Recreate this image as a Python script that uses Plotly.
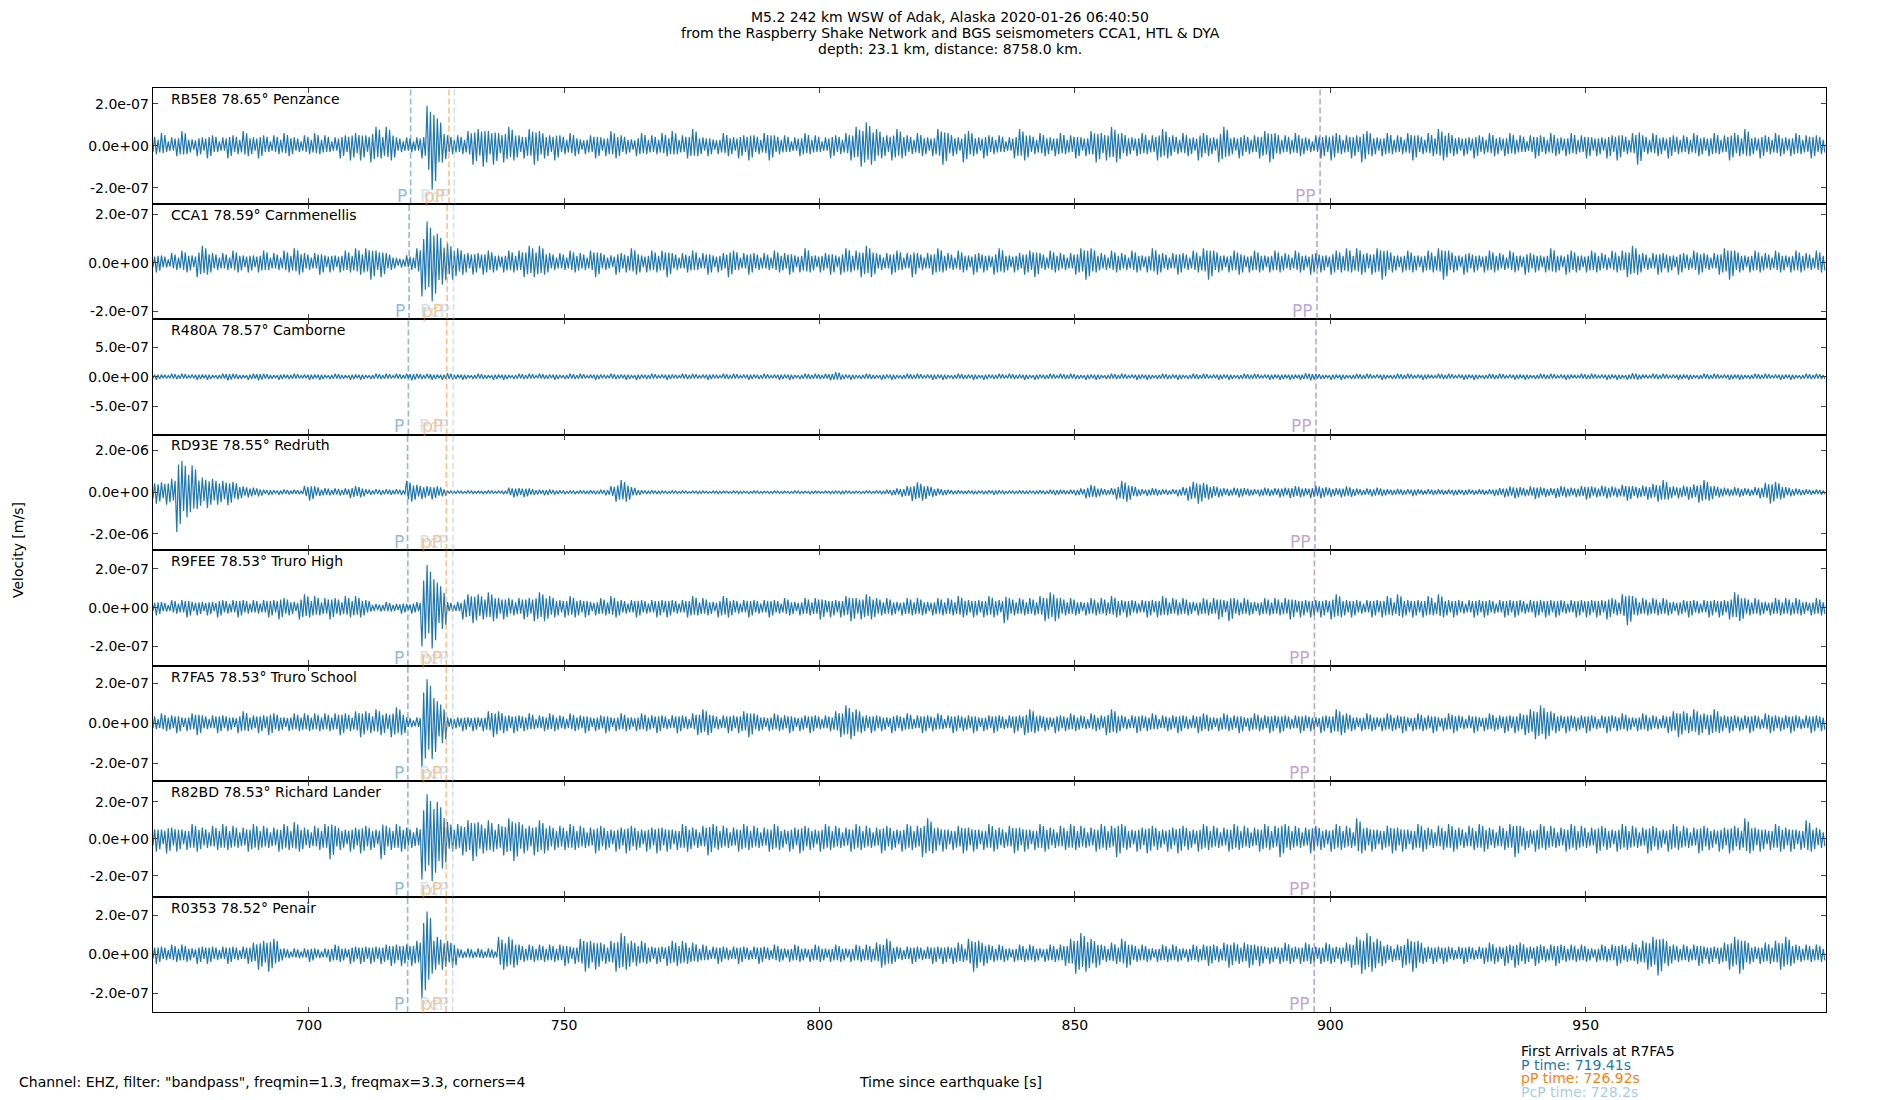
import plotly.graph_objects as go
from plotly.subplots import make_subplots

# stations, top to bottom
stations = ["RB5E8", "CCA1", "R480A", "RD93E", "R9FEE", "R7FA5", "R82BD", "R0353"]
distances = [78.65, 78.59, 78.57, 78.55, 78.53, 78.53, 78.53, 78.52]
places = ["Penzance", "Carnmenellis", "Camborne", "Redruth", "Truro High",
          "Truro School", "Richard Lander", "Penair"]

p_times = [719.95, 719.65, 719.5, 719.35, 719.41, 719.41, 719.41, 719.36]
pp_small_times = [727.45, 727.1, 727.0, 726.95, 726.92, 726.92, 726.92, 726.88]
pcp_times = [728.5, 728.35, 728.3, 728.25, 728.2, 728.2, 728.2, 728.18]
pp_times = [898.0, 897.4, 897.2, 897.0, 896.9, 896.9, 896.9, 896.85]

# y limits and ticks of each panel [m/s]
y_lims = [(-2.75e-7, 2.75e-7), (-2.33e-7, 2.45e-7), (-9.8e-7, 9.8e-7), (-2.77e-6, 2.77e-6),
          (-2.98e-7, 2.98e-7), (-2.89e-7, 2.89e-7), (-3.12e-7, 3.12e-7), (-2.98e-7, 2.98e-7)]
y_ticks = [2e-7, 2e-7, 5e-7, 2e-6, 2e-7, 2e-7, 2e-7, 2e-7]
y_ticklabels = [("-2.0e-07", "0.0e+00", "2.0e-07"), ("-2.0e-07", "0.0e+00", "2.0e-07"),
                ("-5.0e-07", "0.0e+00", "5.0e-07"), ("-2.0e-06", "0.0e+00", "2.0e-06"),
                ("-2.0e-07", "0.0e+00", "2.0e-07"), ("-2.0e-07", "0.0e+00", "2.0e-07"),
                ("-2.0e-07", "0.0e+00", "2.0e-07"), ("-2.0e-07", "0.0e+00", "2.0e-07")]

x_ticks = [700, 750, 800, 850, 900, 950]
x_range = [669.45, 997.05]

# waveform envelope, peak velocity per 1 s bin starting at t=669 s, units of 1e-8 m/s
t_start = 669
env_rb5e8 = [
    5, 4, 6, 3, 4, 5, 7, 4, 3, 5, 4, 6, 5, 3, 4, 6, 5, 4, 7, 5,
    4, 6, 5, 3, 5, 4, 6, 5, 4, 3, 5, 4, 6, 4, 5, 3, 4, 6, 5, 7,
    6, 7, 5, 8, 9, 6, 9, 7, 4, 3, 4, 3, 4, 6, 19, 21, 13, 8, 5, 4,
    5, 4, 7, 9, 8, 10, 7, 9, 6, 8, 9, 7, 5, 6, 8, 9, 7, 6, 5, 7,
    5, 4, 6, 5, 3, 4, 5, 6, 4, 5, 7, 6, 5, 4, 3, 5, 6, 4, 5, 4,
    6, 5, 7, 4, 5, 6, 8, 5, 4, 5, 3, 4, 6, 5, 4, 6, 5, 7, 5, 4,
    6, 7, 5, 4, 5, 3, 4, 5, 6, 4, 5, 3, 4, 6, 5, 4, 6, 7, 9, 10,
    11, 9, 8, 6, 5, 7, 8, 6, 5, 4, 6, 5, 4, 5, 8, 9, 6, 5, 4, 8,
    7, 5, 4, 6, 5, 4, 5, 3, 4, 6, 8, 7, 5, 4, 6, 5, 4, 5, 6, 4,
    5, 6, 4, 5, 7, 8, 6, 7, 9, 8, 6, 5, 4, 5, 6, 4, 5, 7, 8, 6,
    5, 4, 6, 5, 4, 7, 6, 5, 4, 8, 9, 5, 4, 6, 5, 4, 5, 6, 7, 8,
    6, 4, 5, 4, 6, 5, 4, 3, 5, 6, 5, 7, 6, 4, 5, 6, 5, 8, 7, 5,
    4, 5, 6, 4, 5, 4, 6, 7, 5, 4, 6, 5, 8, 7, 6, 5, 4, 5, 4, 6,
    5, 4, 6, 5, 4, 5, 6, 4, 5, 3, 5, 6, 5, 4, 6, 5, 4, 5, 6, 4,
    5, 6, 4, 5, 4, 6, 5, 7, 5, 4, 6, 9, 5, 4, 6, 5, 4, 6, 5, 4,
    5, 4, 6, 5, 4, 5, 6, 4, 5, 7, 6, 5, 8, 5, 4, 6, 5, 4, 6, 5,
    4, 5, 6, 4, 5, 6, 5, 4,
]
env_cca1 = [
    3, 4, 3, 2, 4, 3, 5, 4, 3, 6, 7, 5, 4, 3, 4, 3, 5, 4, 3, 4,
    3, 4, 5, 3, 4, 3, 5, 4, 6, 5, 4, 3, 4, 5, 3, 4, 3, 4, 5, 4,
    6, 5, 6, 7, 5, 6, 4, 3, 2, 2, 3, 3, 6, 14, 17, 16, 12, 9, 8, 7,
    6, 5, 4, 5, 4, 5, 5, 4, 3, 4, 5, 4, 5, 6, 7, 6, 7, 5, 4, 3,
    4, 3, 5, 4, 4, 3, 5, 6, 4, 3, 3, 5, 4, 4, 6, 5, 3, 4, 5, 4,
    5, 6, 4, 3, 4, 4, 5, 3, 4, 5, 3, 4, 4, 6, 5, 3, 4, 5, 4, 3,
    4, 3, 5, 4, 4, 5, 3, 4, 6, 4, 3, 4, 4, 5, 3, 5, 6, 4, 5, 6,
    7, 6, 4, 3, 4, 5, 5, 3, 4, 6, 4, 3, 4, 5, 6, 4, 4, 3, 5, 4,
    3, 5, 4, 4, 3, 5, 6, 4, 3, 4, 4, 5, 5, 6, 4, 3, 5, 4, 4, 3,
    4, 5, 6, 7, 6, 4, 4, 3, 5, 4, 4, 3, 5, 4, 3, 4, 6, 5, 4, 3,
    4, 5, 4, 3, 5, 4, 6, 7, 5, 4, 3, 4, 5, 5, 3, 4, 5, 4, 3, 4,
    5, 4, 4, 3, 5, 4, 3, 5, 4, 4, 3, 5, 5, 4, 6, 4, 6, 5, 4, 5,
    6, 7, 5, 4, 3, 4, 5, 4, 3, 4, 5, 4, 6, 7, 5, 4, 3, 5, 4, 4,
    3, 4, 5, 4, 4, 3, 5, 4, 3, 5, 4, 4, 3, 4, 6, 4, 3, 5, 5, 4,
    3, 4, 5, 4, 4, 3, 5, 4, 5, 6, 7, 5, 4, 3, 4, 5, 4, 4, 3, 5,
    4, 3, 5, 5, 4, 3, 4, 5, 6, 7, 5, 4, 3, 4, 5, 4, 4, 3, 5, 4,
    3, 4, 5, 4, 4, 3, 5, 4,
]
env_r480a = [
    4, 5, 4, 3, 5, 4, 5, 3, 4, 5, 4, 5, 3, 4, 5, 6, 5, 4, 3, 5,
    5, 6, 5, 4, 3, 5, 4, 4, 5, 3, 4, 5, 4, 5, 3, 4, 5, 4, 3, 5,
    4, 5, 3, 4, 5, 4, 5, 3, 5, 4, 5, 6, 5, 4, 5, 5, 4, 5, 6, 5,
    4, 5, 3, 4, 5, 4, 3, 5, 4, 5, 3, 4, 5, 4, 5, 3, 5, 4, 4, 5,
    3, 4, 5, 4, 5, 3, 4, 5, 4, 3, 5, 4, 4, 5, 3, 5, 4, 4, 5, 3,
    4, 5, 4, 3, 5, 4, 5, 3, 4, 5, 4, 3, 5, 4, 5, 3, 4, 5, 4, 4,
    5, 3, 4, 5, 4, 5, 3, 4, 5, 4, 5, 4, 5, 6, 8, 5, 4, 5, 3, 4,
    5, 4, 3, 5, 4, 5, 3, 4, 5, 4, 5, 3, 4, 5, 4, 5, 3, 4, 5, 4,
    4, 5, 3, 5, 4, 4, 5, 3, 5, 4, 4, 5, 3, 5, 4, 4, 5, 3, 5, 4,
    5, 4, 3, 5, 4, 5, 3, 4, 5, 4, 5, 3, 4, 5, 4, 5, 3, 4, 5, 4,
    4, 5, 3, 4, 5, 4, 5, 3, 4, 5, 4, 5, 3, 4, 5, 4, 5, 3, 4, 5,
    4, 5, 4, 5, 4, 5, 6, 6, 5, 4, 3, 5, 4, 5, 3, 4, 5, 4, 5, 3,
    4, 5, 3, 4, 5, 4, 5, 3, 4, 5, 4, 3, 5, 4, 5, 3, 4, 5, 4, 5,
    3, 4, 5, 4, 5, 3, 4, 5, 4, 5, 3, 4, 5, 4, 5, 3, 4, 5, 4, 3,
    5, 4, 5, 3, 4, 5, 4, 5, 3, 5, 6, 5, 4, 3, 5, 4, 5, 3, 4, 5,
    4, 5, 3, 4, 5, 4, 5, 3, 4, 5, 4, 5, 3, 4, 5, 4, 5, 3, 4, 5,
    4, 5, 3, 4, 5, 4, 5, 4,
]
env_rd93e = [
    50, 55, 48, 60, 65, 190, 150, 120, 130, 80, 70, 75, 65, 60, 55, 62, 50, 35, 28, 25,
    22, 20, 12, 14, 10, 12, 13, 11, 12, 10, 30, 40, 28, 18, 20, 15, 19, 16, 18, 28,
    30, 25, 14, 12, 15, 13, 14, 12, 15, 13, 55, 45, 36, 33, 30, 34, 28, 20, 8, 7,
    7, 6, 8, 7, 6, 7, 8, 6, 7, 8, 22, 25, 20, 24, 18, 14, 12, 15, 13, 11,
    10, 9, 8, 9, 10, 8, 9, 10, 12, 15, 30, 45, 58, 45, 25, 15, 10, 8, 9, 8,
    7, 6, 8, 6, 7, 5, 6, 7, 6, 5, 6, 7, 6, 5, 6, 7, 5, 6, 7, 6,
    5, 6, 7, 6, 5, 6, 7, 6, 5, 7, 6, 5, 6, 7, 6, 8, 7, 6, 5, 6,
    7, 6, 8, 10, 12, 15, 18, 22, 30, 42, 48, 40, 30, 22, 18, 15, 12, 10, 9, 8,
    8, 9, 7, 8, 10, 12, 10, 9, 8, 7, 9, 8, 7, 8, 9, 10, 12, 14, 12, 10,
    12, 15, 18, 30, 35, 25, 18, 14, 20, 35, 55, 45, 30, 20, 15, 18, 20, 16, 14, 12,
    15, 20, 25, 40, 50, 55, 45, 35, 30, 25, 20, 18, 22, 25, 20, 18, 15, 20, 22, 18,
    20, 25, 22, 28, 30, 25, 20, 28, 32, 30, 25, 22, 20, 25, 28, 22, 18, 15, 18, 20,
    22, 18, 15, 14, 16, 13, 15, 18, 14, 12, 15, 13, 14, 12, 13, 15, 12, 14, 13, 12,
    14, 12, 15, 18, 20, 25, 28, 30, 25, 20, 28, 32, 25, 22, 20, 28, 30, 25, 22, 24,
    30, 35, 28, 25, 32, 30, 28, 25, 35, 40, 30, 28, 32, 35, 40, 45, 58, 35, 28, 30,
    32, 35, 38, 50, 58, 40, 30, 25, 22, 20, 25, 22, 20, 18, 25, 30, 45, 55, 50, 35,
    25, 20, 18, 15, 14, 12, 13, 12,
]
env_r9fee = [
    3, 4, 3, 2, 4, 3, 4, 5, 3, 4, 3, 4, 3, 5, 4, 3, 4, 5, 4, 3,
    4, 3, 4, 5, 4, 6, 5, 4, 3, 6, 7, 5, 6, 4, 5, 6, 5, 4, 6, 5,
    6, 5, 4, 2, 2, 2, 3, 2, 2, 3, 2, 3, 3, 20, 22, 21, 13, 11, 3, 2,
    3, 6, 7, 8, 7, 6, 8, 7, 5, 6, 5, 4, 5, 6, 5, 7, 8, 7, 6, 5,
    4, 5, 6, 5, 4, 5, 3, 4, 5, 4, 6, 5, 4, 3, 4, 5, 4, 3, 4, 5,
    4, 5, 4, 3, 4, 5, 6, 4, 5, 4, 3, 5, 6, 5, 4, 3, 4, 5, 4, 3,
    4, 5, 4, 3, 5, 4, 3, 4, 5, 4, 5, 6, 4, 5, 4, 5, 6, 7, 5, 6,
    7, 6, 5, 4, 5, 4, 3, 4, 5, 4, 5, 4, 3, 4, 5, 4, 5, 4, 6, 5,
    4, 5, 4, 5, 6, 5, 4, 8, 5, 4, 5, 4, 5, 4, 6, 7, 8, 7, 5, 4,
    5, 4, 3, 4, 5, 4, 5, 4, 6, 5, 4, 5, 4, 3, 4, 5, 4, 5, 6, 4,
    5, 4, 5, 4, 3, 4, 5, 4, 5, 6, 4, 7, 5, 4, 5, 4, 3, 4, 5, 4,
    5, 4, 5, 6, 4, 5, 4, 5, 4, 5, 4, 6, 7, 5, 4, 5, 4, 3, 4, 5,
    4, 5, 6, 4, 7, 5, 4, 5, 4, 5, 6, 4, 7, 5, 4, 5, 4, 3, 4, 5,
    4, 5, 4, 3, 4, 5, 4, 5, 4, 3, 4, 5, 4, 5, 4, 5, 4, 3, 4, 5,
    4, 5, 4, 5, 4, 6, 5, 4, 7, 9, 6, 4, 5, 4, 5, 4, 5, 4, 3, 4,
    4, 5, 4, 3, 4, 5, 4, 5, 4, 6, 8, 7, 5, 4, 5, 4, 3, 4, 5, 4,
    5, 4, 5, 4, 3, 4, 5, 4,
]
env_r7fa5 = [
    4, 3, 5, 4, 4, 5, 3, 4, 5, 6, 4, 3, 4, 5, 4, 4, 3, 5, 6, 4,
    4, 5, 4, 6, 5, 4, 3, 4, 5, 4, 5, 4, 5, 4, 5, 4, 5, 6, 5, 4,
    6, 7, 6, 5, 7, 6, 5, 7, 8, 6, 3, 2, 3, 22, 22, 18, 11, 10, 3, 3,
    3, 4, 3, 4, 3, 4, 6, 7, 6, 5, 4, 5, 4, 4, 5, 3, 4, 4, 5, 4,
    4, 3, 5, 4, 4, 5, 3, 4, 4, 5, 3, 4, 5, 4, 3, 4, 5, 4, 4, 5,
    4, 3, 4, 5, 4, 3, 5, 6, 7, 6, 4, 3, 4, 5, 4, 5, 6, 7, 5, 4,
    3, 4, 5, 4, 4, 5, 3, 4, 4, 5, 4, 3, 4, 4, 6, 7, 9, 8, 7, 5,
    4, 5, 4, 4, 3, 5, 4, 4, 5, 3, 4, 5, 4, 4, 5, 3, 4, 5, 4, 4,
    4, 5, 3, 4, 4, 5, 4, 3, 4, 5, 4, 6, 7, 5, 4, 4, 3, 5, 4, 4,
    5, 4, 4, 3, 5, 4, 4, 6, 7, 5, 4, 3, 4, 5, 4, 4, 5, 3, 4, 4,
    4, 5, 4, 3, 4, 5, 5, 4, 3, 4, 5, 4, 4, 5, 3, 4, 5, 4, 4, 5,
    4, 5, 4, 3, 4, 5, 4, 4, 3, 5, 4, 5, 7, 6, 5, 4, 3, 4, 5, 4,
    3, 4, 5, 4, 4, 5, 3, 4, 5, 4, 4, 5, 3, 4, 5, 5, 4, 3, 4, 5,
    3, 4, 5, 4, 4, 5, 4, 5, 5, 6, 7, 8, 9, 8, 6, 5, 4, 5, 4, 4,
    4, 5, 4, 3, 4, 5, 4, 4, 5, 4, 3, 4, 5, 4, 4, 3, 4, 5, 6, 7,
    6, 5, 7, 6, 5, 6, 7, 5, 4, 5, 4, 4, 4, 5, 4, 3, 5, 5, 4, 4,
    4, 5, 4, 3, 4, 5, 4, 4,
]
env_r82bd = [
    6, 7, 5, 8, 6, 7, 5, 6, 8, 7, 6, 5, 7, 6, 8, 6, 7, 5, 6, 7,
    8, 6, 7, 5, 6, 7, 8, 6, 9, 7, 6, 5, 7, 6, 8, 11, 7, 6, 5, 7,
    6, 8, 7, 6, 5, 11, 7, 6, 8, 7, 6, 5, 6, 22, 24, 23, 20, 16, 9, 7,
    8, 9, 10, 12, 9, 8, 10, 7, 8, 9, 11, 12, 9, 8, 7, 9, 10, 8, 7, 6,
    7, 6, 8, 6, 7, 5, 6, 8, 7, 6, 5, 7, 6, 8, 7, 6, 5, 7, 6, 8,
    6, 7, 5, 6, 8, 7, 6, 5, 7, 9, 8, 6, 7, 5, 6, 7, 8, 6, 7, 5,
    6, 7, 8, 6, 5, 7, 6, 8, 7, 6, 5, 7, 8, 6, 7, 5, 6, 7, 8, 6,
    7, 5, 6, 8, 7, 6, 5, 7, 8, 6, 7, 10, 11, 8, 6, 7, 5, 6, 7, 8,
    6, 7, 5, 6, 8, 7, 6, 5, 7, 8, 6, 7, 5, 6, 8, 7, 6, 5, 7, 6,
    8, 6, 7, 5, 6, 7, 8, 6, 7, 10, 8, 6, 5, 7, 6, 8, 7, 6, 5, 7,
    6, 8, 7, 6, 5, 7, 8, 6, 7, 5, 6, 7, 8, 6, 7, 5, 6, 7, 8, 6,
    7, 10, 8, 6, 7, 5, 6, 8, 7, 6, 5, 7, 8, 6, 7, 5, 11, 8, 6, 7,
    5, 6, 7, 8, 6, 7, 5, 6, 8, 7, 6, 5, 7, 6, 8, 7, 6, 5, 7, 6,
    8, 7, 6, 5, 7, 6, 8, 10, 7, 6, 5, 7, 8, 6, 7, 5, 6, 7, 8, 6,
    7, 5, 6, 8, 7, 6, 5, 7, 8, 6, 7, 5, 6, 8, 7, 6, 5, 7, 8, 6,
    7, 5, 6, 8, 7, 6, 5, 7, 6, 8, 7, 6, 11, 8, 6, 7, 5, 6, 8, 7,
    6, 7, 5, 6, 10, 7, 6, 5,
]
env_r0353 = [
    4, 5, 4, 3, 5, 4, 5, 4, 3, 5, 4, 5, 4, 3, 4, 5, 4, 3, 4, 5,
    6, 8, 7, 9, 8, 4, 3, 2, 3, 2, 3, 4, 3, 2, 3, 4, 5, 4, 3, 5,
    4, 5, 4, 5, 4, 5, 5, 6, 5, 6, 5, 6, 7, 23, 22, 10, 9, 8, 7, 7,
    3, 2, 3, 2, 3, 2, 3, 2, 9, 8, 9, 7, 5, 4, 5, 4, 5, 4, 5, 4,
    5, 6, 4, 5, 8, 9, 7, 8, 6, 5, 7, 9, 11, 8, 7, 6, 7, 5, 4, 5,
    4, 6, 7, 6, 7, 5, 6, 4, 5, 3, 4, 5, 4, 3, 4, 5, 4, 3, 4, 5,
    4, 3, 5, 4, 3, 4, 5, 4, 3, 4, 5, 4, 3, 4, 5, 4, 3, 4, 5, 4,
    5, 4, 6, 7, 8, 5, 4, 3, 4, 5, 4, 3, 4, 5, 4, 5, 4, 5, 6, 4,
    8, 9, 7, 6, 5, 4, 5, 4, 3, 4, 5, 4, 5, 4, 3, 4, 5, 4, 5, 6,
    8, 10, 11, 9, 8, 7, 5, 4, 6, 5, 8, 7, 5, 4, 5, 4, 3, 4, 5, 4,
    5, 4, 3, 4, 5, 4, 5, 6, 5, 4, 6, 7, 6, 5, 6, 7, 5, 6, 4, 5,
    4, 5, 6, 5, 4, 5, 6, 5, 4, 5, 6, 5, 4, 5, 6, 7, 9, 10, 11, 9,
    8, 6, 5, 4, 5, 7, 8, 9, 7, 5, 4, 5, 4, 5, 4, 3, 4, 5, 4, 3,
    4, 5, 6, 5, 4, 6, 5, 7, 6, 5, 4, 6, 5, 4, 5, 6, 5, 4, 5, 4,
    5, 4, 3, 4, 5, 4, 5, 6, 5, 4, 6, 5, 7, 8, 9, 11, 8, 6, 5, 4,
    5, 4, 5, 6, 4, 5, 4, 5, 6, 8, 9, 10, 7, 5, 4, 5, 6, 5, 7, 8,
    9, 6, 5, 4, 5, 4, 5, 4,
]
envelopes = [env_rb5e8, env_cca1, env_r480a, env_rd93e,
             env_r9fee, env_r7fa5, env_r82bd, env_r0353]

arrival_lines = [
    # name, times, line colour
    ("P", p_times, "rgba(31,119,180,0.5)"),
    ("pP", pp_small_times, "rgba(255,127,14,0.5)"),
    ("PcP", pcp_times, "rgba(166,206,227,0.55)"),
    ("PP", pp_times, "rgba(148,103,189,0.6)"),
]

# the page body has an 8px margin, so everything is laid out 8px up/left
OFF = 8
W, H = 1900 - OFF, 1100 - OFF
left, right, top, panel_h = 152.7 - OFF, 1826.0 - OFF, 88.0 - OFF, 115.5
FONT = "DejaVu Sans"
n = len(stations)

# three swings a second (bandpassed 1.3-3.3 Hz); shape over two seconds so band edges are ragged
per_s = 3
swing = [1.0, -0.6, 0.85, -1.0, 0.7, -0.8]

fig = make_subplots(rows=n, cols=1, shared_xaxes=True, vertical_spacing=0)

for i in range(n):
    env = envelopes[i]
    t, v = [], []
    for k in range(len(env) * per_s):
        t.append(t_start + (k + 0.5) / per_s)
        v.append(swing[k % len(swing)] * env[k // per_s] * 1e-8)
    fig.add_trace(go.Scatter(x=t, y=v, mode="lines", line=dict(color="#1f77b4", width=1.2),
                             hoverinfo="skip", showlegend=False), row=i + 1, col=1)

    ax = "" if i == 0 else str(i + 1)
    y_top = 1 - (top + panel_h * i) / H
    y_bot = 1 - (top + panel_h * (i + 1)) / H
    tick = y_ticks[i]
    fig.update_layout({
        "xaxis" + ax: dict(domain=[left / W, right / W], range=x_range, tickvals=x_ticks,
                           showticklabels=(i == n - 1), ticks="inside", ticklen=5, tickwidth=1,
                           showline=True, linecolor="black", linewidth=1.2, mirror="ticks",
                           showgrid=False, zeroline=False,
                           tickfont=dict(family=FONT, size=14, color="black")),
        "yaxis" + ax: dict(domain=[y_bot, y_top], range=list(y_lims[i]),
                           tickvals=[-tick, 0, tick], ticktext=list(y_ticklabels[i]),
                           ticks="inside", ticklen=5, tickwidth=1,
                           showline=True, linecolor="black", linewidth=1.2, mirror="ticks",
                           showgrid=False, zeroline=False,
                           tickfont=dict(family=FONT, size=14, color="black")),
    })

    xref, yref = "x" + ax, "y" + ax + " domain"
    fig.add_annotation(x=(169 - OFF - left) / (right - left), y=1 - 11 / panel_h,
                       xref="x" + ax + " domain", yref=yref, xanchor="left", yanchor="middle",
                       text=f"{stations[i]} {distances[i]:.2f}° {places[i]}", showarrow=False,
                       font=dict(family=FONT, size=14, color="black"))

    for name, times, colour in arrival_lines:
        fig.add_shape(type="line", xref=xref, yref=yref, x0=times[i], x1=times[i], y0=0, y1=1,
                      line=dict(color=colour, width=1.6, dash="6px,3px"))
        fig.add_annotation(x=times[i], y=0, xref=xref, yref=yref, xanchor="right",
                           yanchor="middle", xshift=-2, yshift=8, text=name, showarrow=False,
                           font=dict(family=FONT, size=17, color=colour))


def px(x, y):
    # picture pixels -> paper coordinates
    return (x - OFF) / W, 1 - (y - OFF) / H


# title lines
title_lines = ["M5.2 242 km WSW of Adak, Alaska 2020-01-26 06:40:50",
               "from the Raspberry Shake Network and BGS seismometers CCA1, HTL & DYA",
               "depth: 23.1 km, distance: 8758.0 km."]
for line, ypx in zip(title_lines, [17, 33, 49]):
    x, y = px(950, ypx)
    fig.add_annotation(x=x, y=y, xref="paper", yref="paper", xanchor="center",
                       yanchor="middle", text=line, showarrow=False,
                       font=dict(family=FONT, size=14, color="black"))

x, y = px(18, 550)
fig.add_annotation(x=x, y=y, xref="paper", yref="paper", xanchor="center", yanchor="middle",
                   text="Velocity [m/s]", textangle=-90, showarrow=False,
                   font=dict(family=FONT, size=14, color="black"))
x, y = px(950, 1082)
fig.add_annotation(x=x, y=y, xref="paper", yref="paper", xanchor="center",
                   yanchor="middle", text="Time since earthquake [s]", showarrow=False,
                   font=dict(family=FONT, size=14, color="black"))
x, y = px(17, 1082)
fig.add_annotation(x=x, y=y, xref="paper", yref="paper", xanchor="left", yanchor="middle",
                   text='Channel: EHZ, filter: "bandpass", freqmin=1.3, freqmax=3.3, corners=4',
                   showarrow=False, font=dict(family=FONT, size=14, color="black"))

# first arrivals box, bottom right
info_lines = [("First Arrivals at R7FA5", "black"),
              (f"P time: {p_times[5]:.2f}s", "#1f77b4"),
              (f"pP time: {pp_small_times[5]:.2f}s", "#ff7f0e"),
              (f"PcP time: {pcp_times[5]}s", "#a6cee3")]
for (line, colour), ypx in zip(info_lines, [1051, 1065, 1078, 1092]):
    x, y = px(1519, ypx)
    fig.add_annotation(x=x, y=y, xref="paper", yref="paper", xanchor="left",
                       yanchor="middle", text=line, showarrow=False,
                       font=dict(family=FONT, size=14, color=colour))

fig.update_layout(width=W, height=H, margin=dict(l=0, r=0, t=0, b=0),
                  paper_bgcolor="white", plot_bgcolor="white", showlegend=False)

fig.write_html("out.html")
